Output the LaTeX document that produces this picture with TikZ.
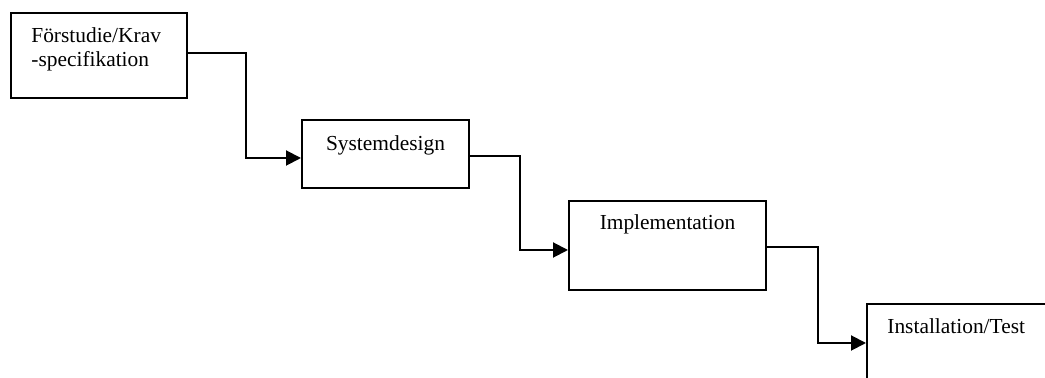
\documentclass[tikz,border=0pt]{standalone}
\usepackage{fontspec}
\setmainfont{Liberation Serif}
\usetikzlibrary{arrows.meta}
\usetikzlibrary{calc}

\tikzset{fas/.style={draw, rectangle, line width=1pt, inner sep=0pt},
  pil/.style={line width=1pt, -{Triangle[length=7.5pt,width=7.5pt]}},
  txt/.style={inner sep=0pt, font=\fontsize{10.7}{12.2}\selectfont}}

\begin{document}
\begin{tikzpicture}[x=0.5pt,y=-0.5pt]%vattenfall
\useasboundingbox (0,0) rectangle (1045,378);
\clip (0,0) rectangle (1045,378);
\node[fas,minimum width=88pt,minimum height=42.5pt] (fors) at (99,55.5) {};
\node[fas,minimum width=83.5pt,minimum height=34pt] (sysd) at (385.5,154) {};
\node[fas,minimum width=98.5pt,minimum height=44.5pt] (impl) at (667.5,245.5) {};
\node[fas,minimum width=96.5pt,minimum height=40pt] (inst) at (963.5,344) {};
\node[txt,anchor=base west,align=left] (tfors) at ([shift={(21,55)}]fors.north west) {Förstudie/Krav\\-specifikation};
\node[txt,anchor=base] (tsysd) at ([yshift=-16pt]sysd.north) {Systemdesign};
\node[txt,anchor=base] (timpl) at ([yshift=-15pt]impl.north) {Implementation};
\node[txt,anchor=base west] (tinst) at ([shift={(21,31)}]inst.north west) {Installation/Test};
\draw[pil] ([yshift=1.25pt]fors.east) -- ++(58,0) |- ([yshift=-2pt]sysd.west);
\draw[pil] ([yshift=-1pt]sysd.east) -- ++(50,0) |- ([yshift=-2.25pt]impl.west);
\draw[pil] ([yshift=-0.75pt]impl.east) -- ++(51,0) |- ([yshift=0.5pt]inst.west);
\end{tikzpicture}
\end{document}
